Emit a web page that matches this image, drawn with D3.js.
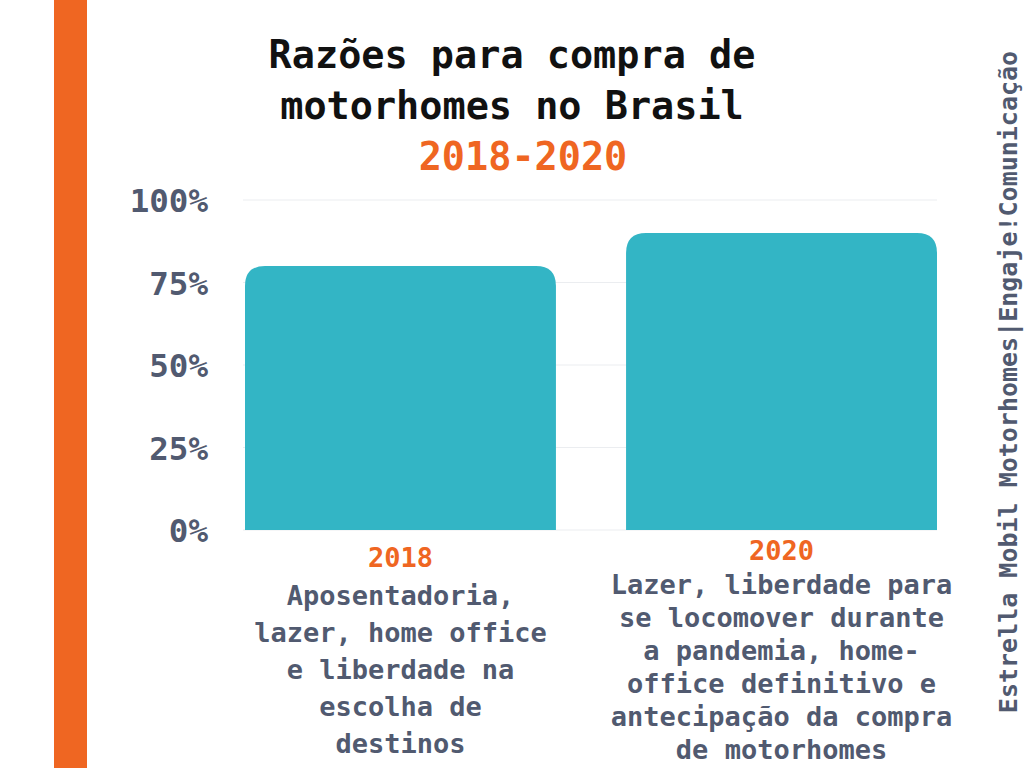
<!DOCTYPE html>
<html><head><meta charset="utf-8">
<script src="https://cdn.jsdelivr.net/npm/d3@7"></script>
<style>
html,body{margin:0;padding:0;background:#fff;}
svg text{font-family:"DejaVu Sans Mono","Liberation Mono",monospace;font-weight:bold;}
</style></head>
<body>
<svg id="chart" width="1024" height="768"></svg>
<script>
const categories = ["2018", "2020"];
const values = [0.80, 0.90];
const descriptions = [
  ["Aposentadoria,", "lazer, home office", "e liberdade na", "escolha de", "destinos"],
  ["Lazer, liberdade para", "se locomover durante", "a pandemia, home-", "office definitivo e", "antecipação da compra", "de motorhomes"]
];
const yTicks = [0, 0.25, 0.5, 0.75, 1];
const titleLines = ["Razões para compra de", "motorhomes no Brasil"];
const subtitle = "2018-2020";
const sideText = "Estrella Mobil Motorhomes|Engaje!Comunicação";

const svg = d3.select("#chart");
const W = 1024, H = 768;
const orange = "#ef6622", teal = "#33b5c5", slate = "#515a70";

svg.append("rect").attr("x",0).attr("y",0).attr("width",W).attr("height",H).attr("fill","#fff");
svg.append("rect").attr("x",54).attr("y",0).attr("width",33).attr("height",H).attr("fill",orange);

const x = d3.scaleBand().domain(categories).range([245, 937]).paddingInner(0.184).paddingOuter(0);
const y = d3.scaleLinear().domain([0, 1]).range([530, 200]);

// gridlines
svg.append("g").selectAll("line").data(yTicks).join("line")
  .attr("x1", 243).attr("x2", 937)
  .attr("y1", d => y(d)).attr("y2", d => y(d))
  .attr("stroke", "#ebedf0").attr("stroke-width", 1);

// y axis labels
const yAxis = d3.axisLeft(y).tickValues(yTicks).tickFormat(d3.format(".0%")).tickSize(0).tickPadding(0);
const gy = svg.append("g").attr("transform", "translate(208,0)").call(yAxis);
gy.select(".domain").remove();
gy.selectAll("text").attr("fill", slate).attr("font-size", 32.5).attr("dy", "0.36em")
  .style("font-family", '"DejaVu Sans Mono",monospace').style("font-weight","bold");

// bars with rounded top
const r = 20;
svg.append("g").selectAll("path").data(categories).join("path")
  .attr("fill", teal)
  .attr("d", (c, i) => {
    const x0 = x(c), w = x.bandwidth(), yt = y(values[i]), yb = y(0);
    return `M${x0},${yb}V${yt + r}Q${x0},${yt} ${x0 + r},${yt}H${x0 + w - r}Q${x0 + w},${yt} ${x0 + w},${yt + r}V${yb}Z`;
  });

// title
svg.append("g").selectAll("text").data(titleLines).join("text")
  .attr("x", 512).attr("y", (d, i) => 55 + i * 51).attr("dy", "0.35em")
  .attr("text-anchor", "middle").attr("font-size", 38.5).attr("fill", "#111")
  .text(d => d);
svg.append("text").attr("x", 523).attr("y", 157).attr("dy", "0.35em")
  .attr("text-anchor", "middle").attr("font-size", 38.5).attr("fill", orange).text(subtitle);

// category labels
const labelTop = [558, 551];
const lineGap = [37, 33];
categories.forEach((c, i) => {
  const cx = x(c) + x.bandwidth() / 2;
  svg.append("text").attr("x", cx).attr("y", labelTop[i]).attr("dy", "0.35em")
    .attr("text-anchor", "middle").attr("font-size", 27).attr("fill", orange).text(c);
  svg.append("g").selectAll("text").data(descriptions[i]).join("text")
    .attr("x", cx).attr("y", (d, k) => labelTop[i] + lineGap[i] * (k + 1) + 1).attr("dy", "0.35em")
    .attr("text-anchor", "middle").attr("font-size", 27).attr("fill", slate).text(d => d);
});

// side text
svg.append("text").attr("transform", "translate(1008,382) rotate(-90)")
  .attr("dy", "0.35em").attr("text-anchor", "middle").attr("font-size", 25).attr("fill", slate)
  .text(sideText);
</script>
</body></html>
